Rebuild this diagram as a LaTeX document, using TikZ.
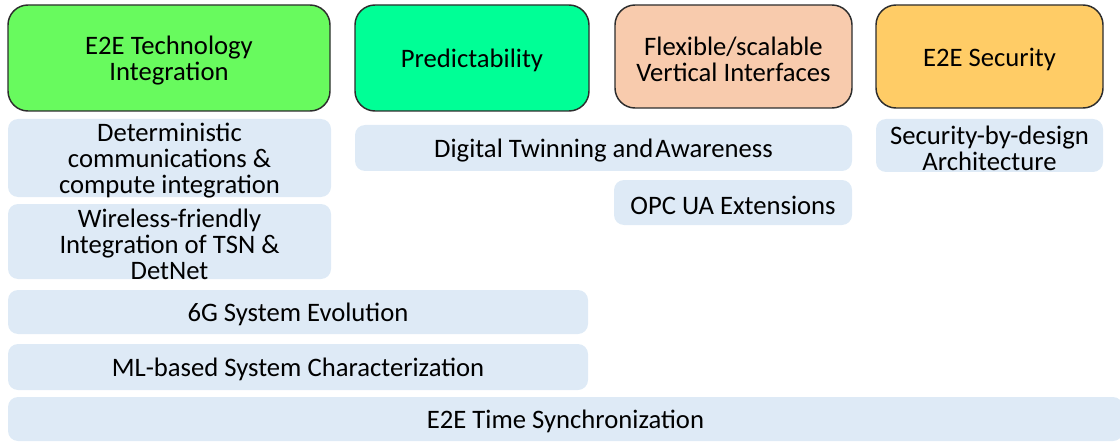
\documentclass[tikz,border=0pt]{standalone}
\usepackage{fontspec}
\setmainfont{Carlito}
\definecolor{techgreen}{RGB}{104,250,94}
\definecolor{predgreen}{RGB}{0,255,150}
\definecolor{flexpeach}{RGB}{248,203,173}
\definecolor{secorange}{RGB}{255,204,102}
\definecolor{enablerblue}{RGB}{222,234,246}
\definecolor{pillarline}{RGB}{45,45,45}
\begin{document}
\begin{tikzpicture}[x=0.75pt,y=-0.75pt,
  every node/.style = {font=\fontsize{20}{19.5}\selectfont, text=black,
    align=center, inner sep=0pt},
  caption/.style = {label={[yshift=-2pt]center:{#1}}},
  pillar/.style = {draw=pillarline, line width=1.1pt, rounded corners=15pt},
  enabler/.style = {fill=enablerblue, rounded corners=7.5pt}]
  \useasboundingbox (0,0) rectangle (1120,442);
  % pillars
  \node[pillar, fill=techgreen, minimum width=241.5pt, minimum height=79.5pt,
    caption={E2E Technology\\Integration}] (tech) at (169,58) {};
  \node[pillar, fill=predgreen, minimum width=175.5pt, minimum height=79.5pt,
    caption={Predictability}] (pred) at (472,58) {};
  \node[pillar, fill=flexpeach, minimum width=177.75pt, minimum height=77.25pt,
    caption={Flexible/scalable\\Vertical Interfaces}] (flex) at (733.5,56.5) {};
  \node[pillar, fill=secorange, minimum width=170.25pt, minimum height=77.25pt,
    caption={E2E Security}] (sec) at (989.5,56.5) {};
  % enablers
  \node[enabler, minimum width=242.25pt, minimum height=58.5pt,
    caption={Deterministic\\communications \&\\compute integration}]
    (determ) at (169.5,158) {};
  \node[enabler, minimum width=242.25pt, minimum height=56.25pt,
    caption={Wireless-friendly\\Integration of TSN \&\\DetNet}]
    (wireless) at (169.5,241.5) {};
  \node[enabler, minimum width=372.75pt, minimum height=34.5pt,
    caption={Digital Twinning and\hspace{1.5pt}Awareness}] (twin) at (603.5,148) {};
  \node[enabler, minimum width=178.5pt, minimum height=33.75pt,
    caption={OPC UA Extensions}] (opc) at (733,202.5) {};
  \node[enabler, minimum width=170.25pt, minimum height=39.75pt,
    caption={Security-by-design\\Architecture}] (secdesign) at (989.5,145.5) {};
  \node[enabler, minimum width=435pt, minimum height=33pt,
    caption={6G System Evolution}] (evol) at (298,312) {};
  \node[enabler, minimum width=435pt, minimum height=34.5pt,
    caption={ML-based System Characterization}] (mlchar) at (298,367) {};
  \node[enabler, minimum width=836.25pt, minimum height=33pt,
    caption={E2E Time Synchronization}] (timesync) at (565.5,419) {};
\end{tikzpicture}
\end{document}
